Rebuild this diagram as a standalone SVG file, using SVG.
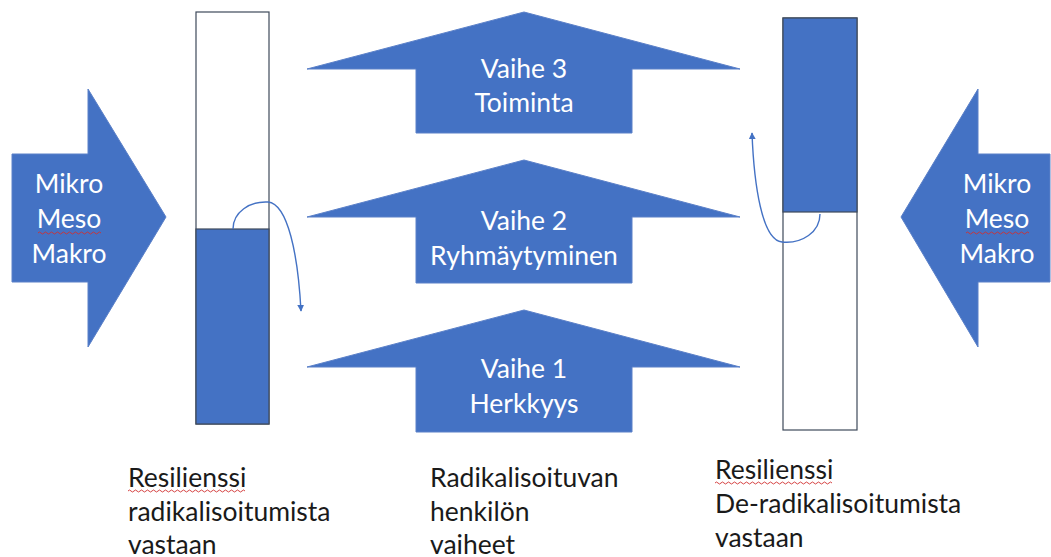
<svg xmlns="http://www.w3.org/2000/svg" width="1051" height="557" viewBox="0 0 1051 557">
<style>
.shape{fill:#4472C4;stroke:#5B80C8;stroke-width:1}
.bar{fill:#ffffff;stroke:#3E4A5A;stroke-width:1.2}
.barfill{fill:#4472C4;stroke:#3E4A5A;stroke-width:1.2}
.wt{font-family:Lato,"Liberation Sans",sans-serif;font-size:26.5px;fill:#ffffff;text-anchor:middle}
.bt{font-family:Lato,"Liberation Sans",sans-serif;font-size:26.5px;fill:#1a1a1a}
.conn{fill:none;stroke:#4472C4;stroke-width:1.4}
.squig{fill:none;stroke:#D03030;stroke-width:0.9}
</style>
<defs>
<marker id="ah" viewBox="0 0 10 10" refX="9" refY="5" markerWidth="7" markerHeight="7" orient="auto" markerUnits="userSpaceOnUse">
<path d="M0,0 L10,5 L0,10 z" fill="#4472C4"/>
</marker>
</defs>
<rect width="1051" height="557" fill="#ffffff"/>

<g id="left-arrow">
<polygon class="shape" points="12,154 88,154 88,89 166,217 88,347 88,282 12,282"/>
<text class="wt" x="69" y="193">Mikro</text>
<text class="wt" x="69" y="228">Meso</text>
<text class="wt" x="69" y="263">Makro</text>
<path class="squig" d="M38,233 q1.5,-2 3,0 t3,0 t3,0 t3,0 t3,0 t3,0 t3,0 t3,0 t3,0 t3,0 t3,0 t3,0 t3,0 t3,0 t3,0 t3,0 t3,0 t3,0 t3,0 t3,0 t3,0"/>
</g>

<g id="right-arrow">
<polygon class="shape" points="1050,154 978,154 978,89 901,217 978,347 978,282 1050,282"/>
<text class="wt" x="997" y="193">Mikro</text>
<text class="wt" x="997" y="228">Meso</text>
<text class="wt" x="997" y="263">Makro</text>
<path class="squig" d="M966,233 q1.5,-2 3,0 t3,0 t3,0 t3,0 t3,0 t3,0 t3,0 t3,0 t3,0 t3,0 t3,0 t3,0 t3,0 t3,0 t3,0 t3,0 t3,0 t3,0 t3,0 t3,0 t3,0"/>
</g>

<g id="left-bar">
<rect class="bar" x="196" y="12" width="73" height="412"/>
<rect class="barfill" x="196" y="229" width="73" height="195"/>
</g>

<g id="right-bar">
<rect class="bar" x="783" y="18" width="74" height="412"/>
<rect class="barfill" x="783" y="18" width="74" height="194"/>
</g>

<g id="vaihe3">
<polygon class="shape" points="524,12 740,69 632,69 632,133 416,133 416,69 307,69"/>
<text class="wt" x="524" y="78">Vaihe 3</text>
<text class="wt" x="524" y="112">Toiminta</text>
</g>

<g id="vaihe2">
<polygon class="shape" points="524,160 740,217 632,217 632,283 416,283 416,217 307,217"/>
<text class="wt" x="524" y="230">Vaihe 2</text>
<text class="wt" x="524" y="265">Ryhmäytyminen</text>
</g>

<g id="vaihe1">
<polygon class="shape" points="524,310 740,367 632,367 632,432 416,432 416,367 307,367"/>
<text class="wt" x="524" y="378">Vaihe 1</text>
<text class="wt" x="524" y="413">Herkkyys</text>
</g>

<g id="connectors">
<path class="conn" d="M233,229 C233,212 250,201 268,202 C288,204 298,255 301,311" marker-end="url(#ah)"/>
<path class="conn" d="M820,214 C820,232 802,244 782,242 C762,240 754,185 752,133" marker-end="url(#ah)"/>
</g>

<g id="label-left">
<text class="bt" x="128" y="487">Resilienssi</text>
<text class="bt" x="128" y="521">radikalisoitumista</text>
<text class="bt" x="128" y="554">vastaan</text>
<path class="squig" d="M128,491 q1.5,-2 3,0 t3,0 t3,0 t3,0 t3,0 t3,0 t3,0 t3,0 t3,0 t3,0 t3,0 t3,0 t3,0 t3,0 t3,0 t3,0 t3,0 t3,0 t3,0 t3,0 t3,0 t3,0 t3,0 t3,0 t3,0 t3,0 t3,0 t3,0 t3,0 t3,0 t3,0 t3,0 t3,0 t3,0 t3,0 t3,0 t3,0 t3,0 t3,0"/>
</g>

<g id="label-middle">
<text class="bt" x="430" y="487">Radikalisoituvan</text>
<text class="bt" x="430" y="521">henkilön</text>
<text class="bt" x="430" y="554">vaiheet</text>
</g>

<g id="label-right">
<text class="bt" x="715" y="479">Resilienssi</text>
<text class="bt" x="715" y="513">De-radikalisoitumista</text>
<text class="bt" x="715" y="547">vastaan</text>
<path class="squig" d="M715,483 q1.5,-2 3,0 t3,0 t3,0 t3,0 t3,0 t3,0 t3,0 t3,0 t3,0 t3,0 t3,0 t3,0 t3,0 t3,0 t3,0 t3,0 t3,0 t3,0 t3,0 t3,0 t3,0 t3,0 t3,0 t3,0 t3,0 t3,0 t3,0 t3,0 t3,0 t3,0 t3,0 t3,0 t3,0 t3,0 t3,0 t3,0 t3,0 t3,0 t3,0"/>
</g>
</svg>
